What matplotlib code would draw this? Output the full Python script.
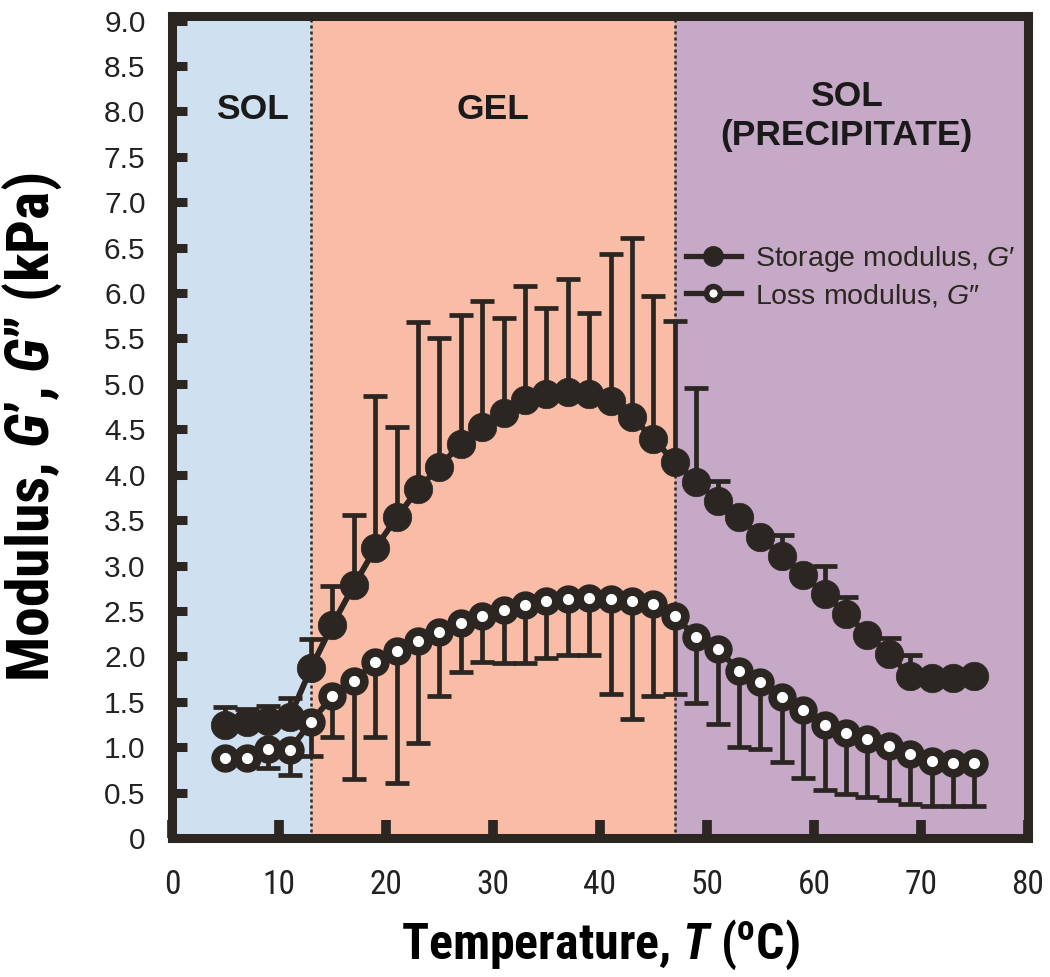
import numpy as np
import matplotlib
matplotlib.use("Agg")
import matplotlib.pyplot as plt
from matplotlib.lines import Line2D
from matplotlib import font_manager

# ---------------- data ----------------
temperature = [5, 7, 9, 11, 13, 15, 17, 19, 21, 23, 25, 27, 29, 31, 33, 35, 37, 39,
               41, 43, 45, 47, 49, 51, 53, 55, 57, 59, 61, 63, 65, 67, 69, 71, 73, 75]

storage = [1.24, 1.28, 1.29, 1.33, 1.87, 2.35, 2.78, 3.19, 3.53, 3.84, 4.09, 4.34,
           4.52, 4.68, 4.82, 4.89, 4.91, 4.89, 4.81, 4.64, 4.39, 4.14, 3.92, 3.71,
           3.53, 3.31, 3.11, 2.89, 2.69, 2.47, 2.24, 2.03, 1.78, 1.76, 1.76, 1.78]
storage_err_top = [1.44, 1.42, 1.45, 1.54, 2.19, 2.77, 3.56, 4.87, 4.53, 5.68, 5.51, 5.76,
                   5.91, 5.73, 6.08, 5.84, 6.15, 5.78, 6.43, 6.61, 5.97, 5.69, 4.95, 3.93,
                   3.53, 3.31, 3.34, 2.89, 2.99, 2.65, 2.24, 2.20, 2.01, 1.76, 1.76, 1.78]

loss = [0.88, 0.88, 0.98, 0.97, 1.28, 1.56, 1.73, 1.94, 2.06, 2.17, 2.27, 2.37,
        2.44, 2.51, 2.57, 2.61, 2.63, 2.64, 2.63, 2.61, 2.58, 2.44, 2.21, 2.08,
        1.84, 1.72, 1.55, 1.41, 1.24, 1.16, 1.09, 1.01, 0.93, 0.85, 0.82, 0.82]
loss_err_bottom = [0.88, 0.88, 0.77, 0.69, 0.90, 1.11, 0.65, 1.11, 0.61, 1.05, 1.56, 1.83,
                   1.94, 1.93, 1.93, 1.98, 2.02, 2.02, 1.58, 1.31, 1.56, 1.58, 1.49, 1.26,
                   1.00, 0.98, 0.84, 0.66, 0.53, 0.48, 0.45, 0.42, 0.37, 0.35, 0.35, 0.35]

regions = [(0, 13, "#cfe1f1"), (13, 47, "#f9bca6"), (47, 80, "#c6a9c6")]
region_labels = ["SOL", "GEL", "SOL\n(PRECIPITATE)"]
region_label_x = [7.5, 30, 63]
region_label_y = [8.02, 8.02, 7.95]

x_ticks = [0, 10, 20, 30, 40, 50, 60, 70, 80]
y_ticks = [0, 0.5, 1.0, 1.5, 2.0, 2.5, 3.0, 3.5, 4.0, 4.5, 5.0, 5.5, 6.0, 6.5,
           7.0, 7.5, 8.0, 8.5, 9.0]
y_tick_labels = ["0"] + [f"{v:.1f}" for v in y_ticks[1:]]

DARK = "#2b2622"


def pick(cands):
    for c in cands:
        try:
            font_manager.findfont(font_manager.FontProperties(family=c),
                                  fallback_to_default=False)
            return c, True
        except Exception:
            continue
    return 'Liberation Sans', False


NARROW, HAVE_NARROW = pick(['Liberation Sans Narrow', 'Arial Narrow', 'DejaVu Sans Condensed',
                            'Roboto Condensed', 'Open Sans Condensed'])

plt.rcParams['font.family'] = ['Liberation Sans', 'DejaVu Sans']
plt.rcParams['mathtext.fontset'] = 'custom'
plt.rcParams['mathtext.it'] = NARROW + ':bold:italic'
plt.rcParams['mathtext.rm'] = NARROW + ':bold'
plt.rcParams['mathtext.sf'] = 'Liberation Sans:italic'

fig = plt.figure(figsize=(10.5, 9.77), dpi=100)
ax = fig.add_axes([0.1638, 0.1423, 0.8152, 0.8413])

# background regions
for (x0, x1, col), lab, lx, ly in zip(regions, region_labels, region_label_x, region_label_y):
    ax.axvspan(x0, x1, color=col, zorder=0, lw=0)
    ax.text(lx, ly, lab, ha='center', va='center', fontsize=25.5,
            fontweight='bold', color='#1a1a1a', linespacing=1.22,
            family=['Liberation Sans', 'DejaVu Sans'])
for xb in [13, 47]:
    ax.axvline(xb, color=DARK, lw=1.8, ls=(0, (1.2, 1.2)), zorder=1)

T = np.array(temperature)
Gs = np.array(storage)
Gl = np.array(loss)
up = np.array(storage_err_top) - Gs
dn = Gl - np.array(loss_err_bottom)

ax.errorbar(T, Gs, yerr=[np.zeros_like(up), up], fmt='none', ecolor=DARK,
            elinewidth=3.4, capsize=8.5, capthick=3.4, zorder=2)
ax.errorbar(T, Gl, yerr=[dn, np.zeros_like(dn)], fmt='none', ecolor=DARK,
            elinewidth=3.4, capsize=8.5, capthick=3.4, zorder=2)

ax.plot(T, Gs, '-', color=DARK, lw=4.2, zorder=3)
ax.plot(T, Gs, 'o', color=DARK, ms=20.5, mec=DARK, mew=0.5, zorder=4)
ax.plot(T, Gl, '-', color=DARK, lw=4.2, zorder=3)
ax.plot(T, Gl, 'o', mfc='white', mec=DARK, ms=14.2, mew=6.2, zorder=4)

# legend
h1 = Line2D([], [], color=DARK, lw=3.8, marker='o', ms=14, mfc=DARK, mec=DARK)
h2 = Line2D([], [], color=DARK, lw=3.8, marker='o', ms=10, mfc='white', mec=DARK, mew=4)
leg = ax.legend([h1, h2], [r"Storage modulus, $\mathsf{G}$′", r"Loss modulus, $\mathsf{G}$″"],
                loc='upper left', bbox_to_anchor=(0.6, 0.723), frameon=False,
                fontsize=20.5, handlelength=1.95, handletextpad=0.5, labelspacing=0.3,
                borderaxespad=0, borderpad=0)
for t in leg.get_texts():
    t.set_color('#2b2622')

ax.set_xlim(0, 80)
ax.set_ylim(0, 9.05)
ax.set_xticks(x_ticks)
ax.set_yticks(y_ticks)
ax.set_yticklabels(y_tick_labels)
ax.set_xticks([5, 15, 25, 35, 45, 55, 65, 75], minor=True)

ax.tick_params(axis='x', which='major', direction='in', length=13, width=7,
               color=DARK, pad=22, labelsize=24)
ax.tick_params(axis='x', which='minor', direction='out', length=3, width=2,
               color=DARK)
ax.tick_params(axis='y', which='major', direction='in', length=11, width=6.5,
               color=DARK, pad=19, labelsize=21.5)
for lab in ax.get_xticklabels():
    lab.set_family([NARROW, 'Liberation Sans'])
    lab.set_color('#222222')
for lab in ax.get_yticklabels():
    lab.set_color('#222222')

for s in ax.spines.values():
    s.set_linewidth(6.5)
    s.set_color(DARK)
    s.set_zorder(6)

xsize, ysize = (36, 43) if HAVE_NARROW else (31, 36.5)
ax.set_xlabel(r"Temperature, $T$ ($^{\mathrm{o}}$C)", fontsize=xsize, fontweight='bold',
              family=[NARROW, 'Liberation Sans'])
ax.set_ylabel(r"Modulus, $G$’, $G$” (kPa)", fontsize=ysize, fontweight='bold',
              family=[NARROW, 'Liberation Sans'])
# label centres in figure pixels -> axes coords
ax_x0, ax_w = 0.1638 * 1050, 0.8152 * 1050
ax_y0, ax_h = (1 - 0.1423) * 977, 0.8413 * 977
ax.xaxis.set_label_coords(0.5, (ax_y0 - 945) / ax_h)
ax.xaxis.label.set_va('center')
ax.yaxis.set_label_coords((32 - ax_x0) / ax_w, 0.5)
ax.yaxis.label.set_va('center')

fig.savefig("out.png", dpi=100)
